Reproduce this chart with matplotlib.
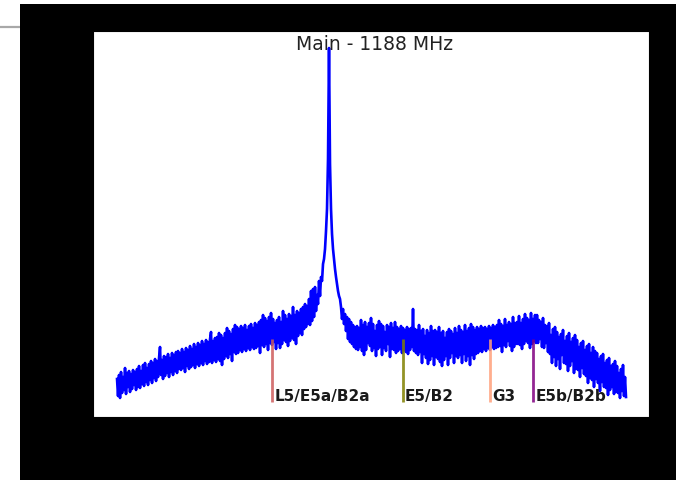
import numpy as np
import matplotlib
matplotlib.use("Agg")
import matplotlib.pyplot as plt
from matplotlib.patches import Rectangle
from matplotlib.lines import Line2D

# ---- data -------------------------------------------------------------
title = "Main - 1188 MHz"
freq_start_mhz = 1158.26
freq_stop_mhz = 1218.0
# relative power (arbitrary units), one value per sample
power = [
    20, 3, 24, 1, 27, 6, 22, 9, 31, 5, 26, 12, 28, 7, 25, 10, 29, 14, 27, 9,
    30, 12, 33, 11, 28, 15, 34, 13, 36, 17, 31, 14, 35, 19, 38, 16, 36, 21, 40, 18,
    38, 22, 41, 52, 24, 39, 20, 43, 23, 42, 26, 45, 22, 41, 27, 46, 24, 44, 28, 47,
    26, 48, 30, 46, 29, 50, 31, 47, 27, 51, 33, 49, 30, 53, 32, 50, 34, 55, 31, 52,
    35, 56, 33, 54, 36, 58, 34, 55, 38, 59, 35, 57, 37, 60, 67, 36, 58, 39, 61, 37,
    62, 40, 66, 38, 64, 34, 61, 40, 66, 43, 71, 41, 68, 45, 65, 38, 70, 47, 74, 45,
    72, 46, 70, 49, 73, 47, 71, 50, 74, 48, 69, 51, 73, 49, 75, 52, 71, 50, 76, 51,
    74, 53, 77, 46, 79, 54, 84, 52, 81, 55, 78, 49, 82, 56, 86, 54, 80, 57, 76, 50,
    79, 56, 82, 51, 77, 55, 88, 59, 84, 57, 80, 53, 85, 58, 83, 61, 92, 59, 84, 55,
    88, 63, 86, 66, 90, 64, 92, 70, 95, 72, 93, 75, 100, 74, 108, 78, 110, 82, 112, 88,
    104, 95, 118, 103, 122, 118, 135, 140, 150, 168, 190, 240, 351, 235, 190, 165, 150, 140, 130, 122,
    115, 108, 103, 100, 92, 80, 90, 75, 85, 68, 82, 60, 80, 57, 77, 55, 74, 52, 72, 50,
    73, 49, 71, 52, 79, 48, 74, 44, 77, 49, 72, 56, 76, 53, 81, 48, 75, 51, 68, 43,
    74, 50, 78, 52, 75, 44, 73, 51, 67, 48, 74, 55, 72, 42, 76, 50, 71, 49, 77, 46,
    72, 48, 70, 50, 73, 46, 71, 49, 69, 47, 72, 45, 70, 49, 71, 52, 90, 48, 70, 46,
    69, 44, 74, 47, 68, 36, 70, 45, 63, 41, 69, 35, 66, 39, 73, 43, 68, 34, 69, 42,
    67, 40, 72, 37, 66, 33, 68, 39, 61, 43, 67, 34, 70, 41, 68, 46, 65, 36, 71, 43,
    66, 41, 73, 44, 69, 36, 67, 45, 74, 38, 68, 43, 71, 34, 75, 44, 72, 40, 69, 45,
    72, 46, 70, 48, 73, 47, 71, 50, 72, 48, 70, 51, 73, 49, 71, 52, 74, 50, 72, 51,
    74, 52, 79, 53, 75, 47, 73, 54, 80, 52, 74, 58, 77, 53, 75, 48, 82, 52, 76, 55,
    77, 55, 83, 54, 76, 50, 80, 55, 85, 58, 81, 56, 79, 51, 86, 55, 80, 58, 84, 56,
    84, 56, 79, 60, 77, 52, 81, 51, 74, 56, 73, 47, 76, 45, 64, 36, 70, 42, 72, 33,
    67, 40, 62, 30, 65, 44, 69, 36, 58, 35, 63, 28, 66, 33, 57, 38, 61, 26, 64, 30,
    59, 29, 52, 22, 56, 31, 58, 25, 49, 23, 53, 16, 55, 21, 46, 19, 52, 12, 48, 20,
    46, 16, 40, 8, 43, 17, 45, 12, 36, 11, 39, 4, 41, 9, 33, 12, 35, 5, 38, 7,
    33, 6, 26, 1, 30, 8, 34, 3, 22, 2,
]
band_names = ["L5/E5a/B2a", "E5/B2", "G3", "E5b/B2b"]
band_freqs = [1176.45, 1191.795, 1202.025, 1207.14]
band_colors = ["indianred", "olive", "lightsalmon", "purple"]

freqs = np.linspace(freq_start_mhz, freq_stop_mhz, len(power))

# ---- figure -----------------------------------------------------------
W, H = 690, 481
fig = plt.figure(figsize=(W / 100, H / 100), dpi=100, facecolor="white")

# black backdrop (screenshot of a dark figure)
fig.patches.append(Rectangle((20 / W, 0), (676 - 20) / W, (H - 5) / H,
                             transform=fig.transFigure, facecolor="black",
                             edgecolor="none", zorder=-10))
# small gray rule on the white page at top-left
fig.lines.append(Line2D([0, 19 / W], [1 - 28 / H, 1 - 28 / H],
                        transform=fig.transFigure, color="#a8a8a8", lw=1.6,
                        zorder=-10))

ax = fig.add_axes([93 / W, (H - 418) / H, (649 - 93) / W, (418 - 32) / H])
ax.set_zorder(5)
ax.set_facecolor("white")

ax.plot(freqs, power, color="blue", lw=1.9, zorder=2)

ax.vlines(band_freqs, -3, 60, colors=band_colors, lw=2, alpha=0.85, zorder=3)
for f, name in zip(band_freqs, band_names):
    ax.text(f + 0.25, -1, name, fontsize=11, fontweight="bold", color="#1a1a1a",
            va="baseline", ha="left", zorder=4)

ax.text(0.5054, 0.993, title, transform=ax.transAxes, ha="center", va="top",
        fontsize=13.5, color="#222222")

ax.set_xlim(1155.44, 1220.70)
ax.set_ylim(-18, 368)
ax.tick_params(colors="black")

fig.savefig("out.png", dpi=100, facecolor=fig.get_facecolor())
